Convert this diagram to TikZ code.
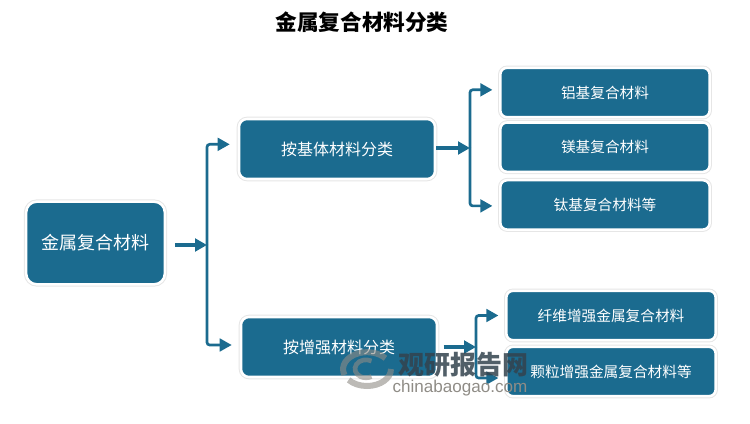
\documentclass[tikz,border=0pt]{standalone}
\usepackage{fontspec}
\usepackage{tikz}
\usetikzlibrary{arrows.meta}
\setmainfont{Liberation Sans}
\newfontfamily\cjk{Noto Sans CJK SC}
\definecolor{boxblue}{HTML}{1B6B8F}
\definecolor{glowgray}{HTML}{E6E6E6}
\definecolor{markgray}{HTML}{8F8C86}
\definecolor{markdark}{HTML}{33434E}

\begin{document}
\begin{tikzpicture}[
                        x=0.75pt,
                        y=-0.75pt,
                        >={Triangle[length=9pt,width=9.5pt]},
                        catbox/.style={rectangle, draw=white, fill=boxblue, text=white, line width=1.9pt, preaction={draw=glowgray,line width=3.4pt}},
                        rootbox/.style={catbox, rounded corners=8pt, minimum width=104pt, minimum height=62pt, font=\cjk\fontsize{13.5}{16}\selectfont},
                        midbox/.style={catbox, rounded corners=6pt, minimum width=147pt, minimum height=45pt, font=\cjk\fontsize{12}{14}\selectfont},
                        leafbox/.style={catbox, rounded corners=5pt, minimum width=157pt, minimum height=37pt, font=\cjk\fontsize{11}{13}\selectfont},
                        link/.style={draw=boxblue, line width=2pt, rounded corners=2pt},
                        stub/.style={link, line width=2.6pt},
                        swirl/.style={draw=markgray, opacity=.6, line width=4.5pt}
                    ]
                    \useasboundingbox (0,0) rectangle (750,424);
                    % Title
                    \node [font=\cjk\bfseries\fontsize{16.2}{19}\selectfont] (title) at (362,22) {金属复合材料分类};

                    % Blocks
                    \node [rootbox] (metal) at (95.5,243) {金属复合材料};
                    \node [midbox] (matrix) at (337,149) {按基体材料分类};
                    \node [midbox, below of=matrix, node distance=148.5pt, xshift=1.5pt] (reinforce) {按增强材料分类};
                    \node [leafbox] (alu) at (605,92.5) {铝基复合材料};
                    \node [leafbox, below of=alu, node distance=41pt] (magnesium) {镁基复合材料};
                    \node [leafbox, below of=magnesium, node distance=43.3pt] (titanium) {钛基复合材料等};
                    \node [leafbox] (fibre) at (611,315.5) {纤维增强金属复合材料};
                    \node [leafbox, below of=fibre, node distance=42pt] (particle) {颗粒增强金属复合材料等};

                    % Forks
                    \coordinate (metalfork) at (207,245);
                    \coordinate (matrixfork) at (470,148);
                    \coordinate (reinforcefork) at (476,347);

                    % Connections
                    \draw [stub, ->, shorten <=6.5pt] (metal.east |- metalfork) -- (metalfork);
                    \draw [link, ->, shorten >=6pt] (metalfork) |- ([yshift=3.5pt]matrix.west);
                    \draw [link, ->, shorten >=6pt] (metalfork) |- ([yshift=1.5pt]reinforce.west);
                    \draw [stub, ->] (matrix.east |- matrixfork) -- (matrixfork);
                    \draw [link, ->, shorten >=5pt] (matrixfork) |- ([yshift=2pt]alu.west);
                    \draw [link, ->, shorten >=5pt] (matrixfork) |- ([yshift=-.75pt]titanium.west);
                    \draw [stub, ->, shorten <=4pt] (reinforce.east |- reinforcefork) -- (reinforcefork);
                    \draw [link, ->, shorten >=5pt] (reinforcefork) |- (fibre.west);
                    \draw [link, ->, shorten >=5pt] (reinforcefork) |- ([yshift=-4.9pt]particle.west);

                    % Watermark
                    \draw [swirl] (344.5,375) arc (160:320:24 and 17);
                    \draw [swirl] (391,369) arc (0:140:24 and 17);
                    \draw [swirl, line width=3.5pt] (371.5,361) arc (300:60:11 and 9);
                    \node [font=\cjk\bfseries\fontsize{19.5}{22}\selectfont, text=markdark, opacity=.85] (markname) at (463,365) {观研报告网};
                    \node [below of=markname, node distance=17.5pt, xshift=-2.25pt, font=\fontsize{12.8}{16}\selectfont, text=markgray] (markurl) {chinabaogao.com};
                \end{tikzpicture}
\end{document}
